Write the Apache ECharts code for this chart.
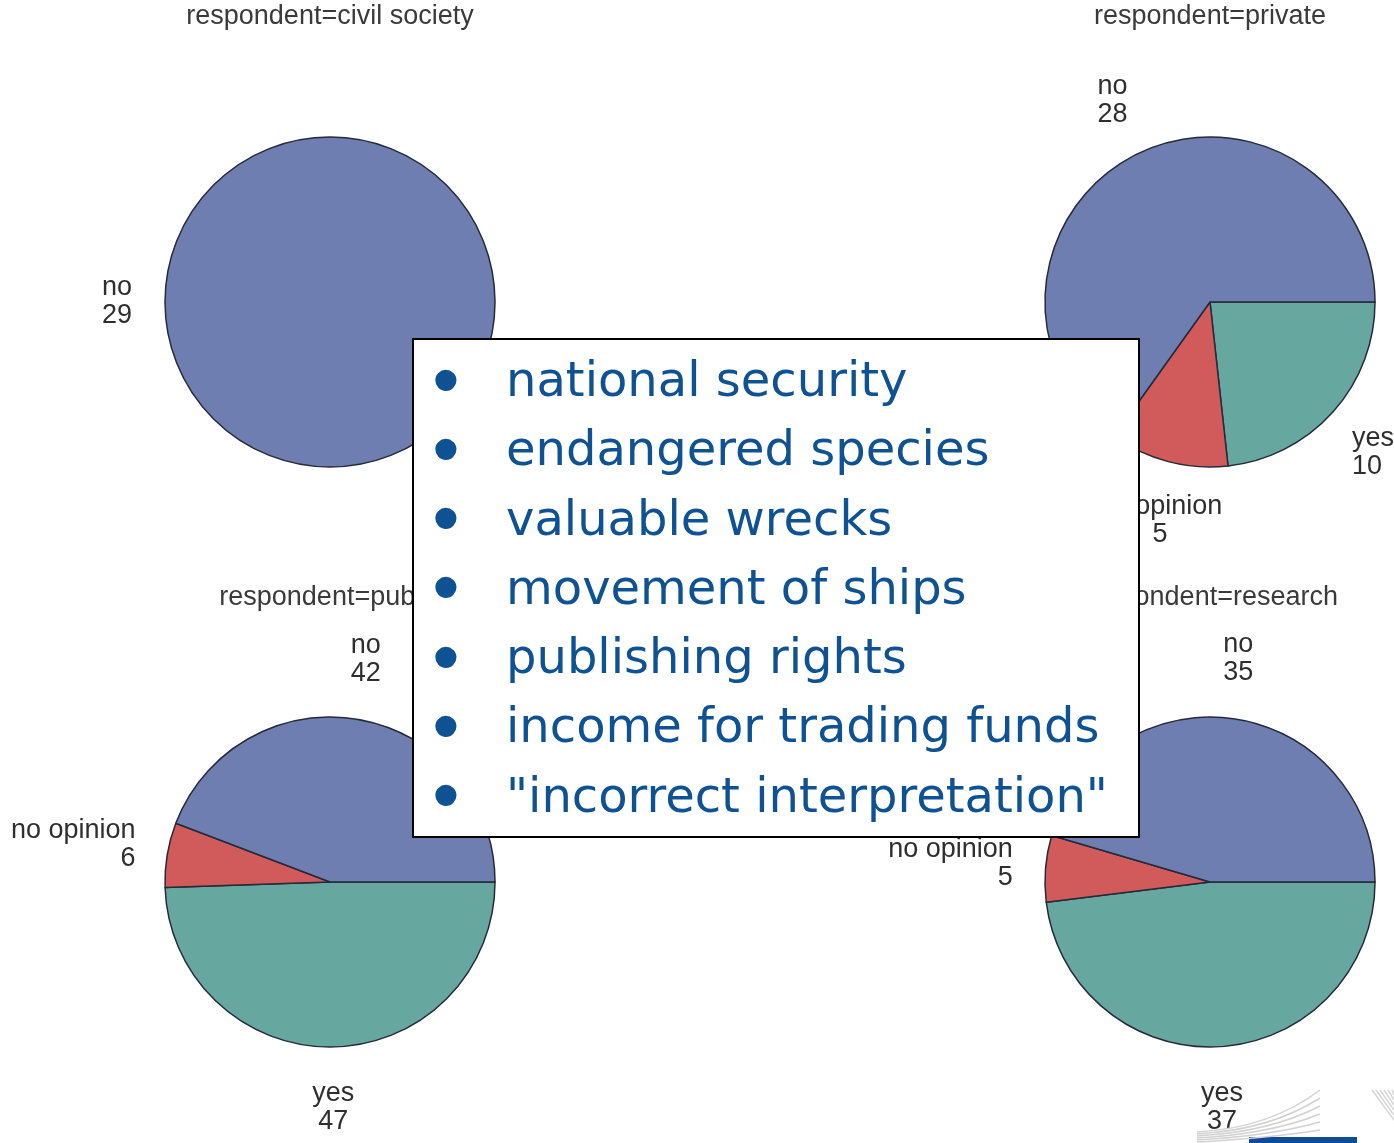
<!DOCTYPE html>
<html>
<head>
<meta charset="utf-8">
<title>respondent pies</title>
<script src="https://cdn.jsdelivr.net/npm/echarts@6/dist/echarts.min.js"></script>
<style>
  html, body { margin: 0; padding: 0; background: #fff; }
  #main { width: 1394px; height: 1143px; }
</style>
</head>
<body>
<div id="main"></div>
<script>
// data
var respondents = ['civil society', 'private', 'public', 'research'];
var answers = ['yes', 'no opinion', 'no'];
var yesCounts = [0, 10, 47, 37];
var noOpinionCounts = [0, 5, 6, 5];
var noCounts = [29, 28, 42, 35];
var bulletItems = [
	'national security',
	'endangered species',
	'valuable wrecks',
	'movement of ships',
	'publishing rights',
	'income for trading funds',
	'"incorrect interpretation"'
];

var answerColors = ['#66a8a0', '#d15b5b', '#6e7eb1'];
var pieCenters = [[330, 302], [1210, 302], [330, 882], [1210, 882]];
var pieRadius = 165;
var labelFont = "'Liberation Sans', Arial, sans-serif";
var boxBlue = '#0e5293';

// build the slices for one respondent (empty answers are left out)
function sliceData(i){
	var vals = [yesCounts[i], noOpinionCounts[i], noCounts[i]];
	var out = [];
	for(var k = 0; k < vals.length; k++){
		if(vals[k] > 0){
			out.push({name: answers[k], value: vals[k], itemStyle: {color: answerColors[k]}});
		}
	}
	return out;
}

// labels sit at 1.2 r on the mid angle, the box pushed away from the pie
function makeLabelLayout(si, data){
	return function(params){
		var total = 0, before = 0;
		for(var k = 0; k < data.length; k++){
			total += data[k].value;
			if(k < params.dataIndex) before += data[k].value;
		}
		var mid = (before + data[params.dataIndex].value / 2) / total * Math.PI * 2;
		var c = Math.cos(mid), s = Math.sin(mid);
		var ax = pieCenters[si][0] + pieRadius * 1.2 * c;
		var ay = pieCenters[si][1] + pieRadius * 1.2 * s;
		var w = params.labelRect.width, h = params.labelRect.height;
		var adjx = (1 - c) / 2, adjy = (1 - s) / 2;
		var left = ax - adjx * w;
		var align = 'center', x = ax;
		if(adjx < 0.3){ align = 'left'; x = left; }
		else if(adjx > 0.7){ align = 'right'; x = left + w; }
		return {x: x, y: ay - adjy * h, align: align, verticalAlign: 'top'};
	};
}

var series = [];
var titles = [];
for(var i = 0; i < respondents.length; i++){
	var data = sliceData(i);
	series.push({
		name: respondents[i],
		type: 'pie',
		z: 2,
		center: pieCenters[i],
		radius: pieRadius,
		startAngle: 0,
		clockwise: true,
		avoidLabelOverlap: false,
		animation: false,
		silent: true,
		label: {
			show: true,
			position: 'outside',
			formatter: '{b}\n{c}',
			fontFamily: labelFont,
			fontSize: 27,
			lineHeight: 28,
			color: '#2e2e2e',
			overflow: 'none'
		},
		labelLine: { show: false },
		labelLayout: makeLabelLayout(i, data),
		itemStyle: { borderColor: '#262a38', borderWidth: 1.5 },
		data: data
	});
	titles.push({
		text: 'respondent=' + respondents[i],
		left: pieCenters[i][0],
		top: pieCenters[i][1] < 600 ? 3 : 584,
		textAlign: 'center',
		padding: 0,
		textStyle: {
			fontFamily: labelFont,
			fontSize: 27,
			lineHeight: 27,
			fontWeight: 'normal',
			color: '#3a3a3a'
		}
	});
}

// white box with the bullet list laid over the pies
var graphicElems = [{
	type: 'rect', z: 100,
	shape: {x: 413, y: 339, width: 726, height: 498},
	style: {fill: '#fff', stroke: '#000', lineWidth: 2}
}];
for(var j = 0; j < bulletItems.length; j++){
	var yy = 383.5 + j * 69.3;
	graphicElems.push({
		type: 'text', z: 101, x: 446, y: yy + 0.5,
		style: {text: '\u2022', fontFamily: labelFont, fontSize: 78, fill: boxBlue, align: 'center', verticalAlign: 'middle'}
	});
	graphicElems.push({
		type: 'text', z: 101, x: 506, y: yy,
		style: {text: bulletItems[j], fontFamily: "'DejaVu Sans', Verdana, sans-serif", fontSize: 48, fill: boxBlue, align: 'left', verticalAlign: 'middle'}
	});
}

// bit of the logo in the corner
graphicElems.push({
	type: 'rect', z: 90,
	shape: {x: 1249, y: 1137, width: 108, height: 6},
	style: {fill: '#0f4c97'}
});
for(var m = 0; m < 6; m++){
	graphicElems.push({
		type: 'bezierCurve', z: 90,
		shape: {x1: 1197, y1: 1132 + m * 2, cpx1: 1270, cpy1: 1128 + m * 2, x2: 1320, y2: 1090 + m * 8},
		style: {stroke: '#d2d2d2', lineWidth: 1.5, fill: null}
	});
	graphicElems.push({
		type: 'line', z: 90,
		shape: {x1: 1372 + m * 4, y1: 1090, x2: 1394, y2: 1120 - m * 5},
		style: {stroke: '#d6d6d6', lineWidth: 1.5}
	});
}

var myChart = echarts.init(document.getElementById('main'));
var option = {
	backgroundColor: '#fff',
	animation: false,
	title: titles,
	series: series,
	graphic: {
		elements: graphicElems
	}
};
myChart.setOption(option);
</script>
</body>
</html>
